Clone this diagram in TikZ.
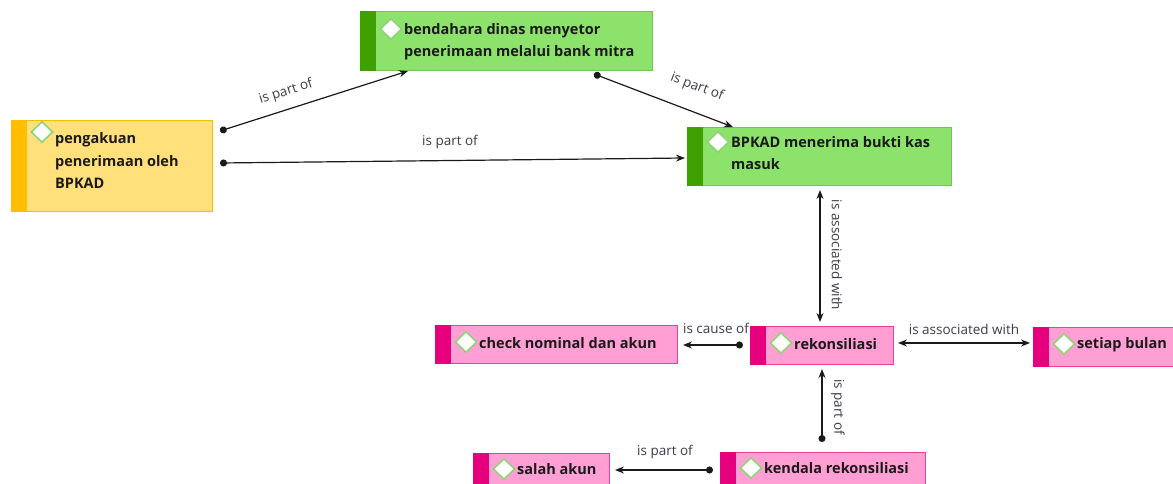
\documentclass[tikz,border=0pt]{standalone}
\usepackage{fontspec}
\setmainfont{Open Sans}
\usetikzlibrary{arrows.meta,shapes.geometric,calc}
\definecolor{gfillc}{HTML}{8CE26A}
\definecolor{gbarc}{HTML}{3FA100}
\definecolor{gborderc}{HTML}{6CC94A}
\definecolor{yfillc}{HTML}{FFE07A}
\definecolor{ybarc}{HTML}{FFBF00}
\definecolor{yborderc}{HTML}{F5C000}
\definecolor{pfillc}{HTML}{FF9FD3}
\definecolor{pbarc}{HTML}{E6007E}
\definecolor{pborderc}{HTML}{EC3E9A}
\definecolor{dline}{HTML}{8FD27A}
\definecolor{txtc}{HTML}{1A1A1A}
\definecolor{lblc}{HTML}{3C3C4C}
\definecolor{conc}{HTML}{1A1A1A}
\newcommand\kbox[9]{%
  \node[box, draw=#2borderc, fill=#2fillc, minimum width=#5pt, minimum height=#6pt] (#1) at (#3,#4) {};
  \fill[fill=#2barc] (#1.north west) rectangle ($(#1.south west)+(16,0)$);
  \node[diam] (#1-d) at ($(#1.north west)+(31,#7)$) {};
  \node[ntext] (#1-t) at ($(#1.north west)+(44,#8)$) {#9};
}
\begin{document}
\begin{tikzpicture}[x=1pt,y=-1pt,
  box/.style={draw, anchor=north west, inner sep=0pt, line width=1pt},
  diam/.style={diamond, draw=dline, fill=white, line width=1.6pt, minimum width=22pt, minimum height=21pt, inner sep=0pt},
  ntext/.style={anchor=west, align=left, inner sep=0pt, text=txtc, font=\bfseries\fontsize{14.5}{22.5}\selectfont},
  lbl/.style={text=lblc, font=\fontsize{13.5}{15}\selectfont, inner sep=0pt},
  conn/.style={draw=conc, line width=1.2pt, {Circle[length=7pt]}-{Stealth[length=9pt,width=7pt]}},
  biconn/.style={draw=conc, line width=1.2pt, {Stealth[length=9pt,width=7pt]}-{Stealth[length=9pt,width=7pt]}}
]
\useasboundingbox[fill=white] (0,0) rectangle (1173,484);

\kbox{top}{g}{360}{11}{292}{59}{18}{30.5}{bendahara dinas menyetor\\penerimaan melalui bank mitra}
\kbox{yel}{y}{11}{120}{201}{91}{12}{40.5}{pengakuan\\penerimaan oleh\\BPKAD}
\kbox{bp}{g}{687}{127}{264}{58}{15}{26}{BPKAD menerima bukti kas\\masuk}
\kbox{chk}{p}{435}{325}{242}{38}{17}{18}{check nominal dan akun}
\kbox{rek}{p}{750}{326}{143}{38}{17}{18}{rekonsiliasi}
\kbox{set}{p}{1033}{327}{150}{39}{17}{18}{setiap bulan}
\kbox{sal}{p}{473}{453}{136}{38}{16}{16}{salah akun}
\kbox{ken}{p}{720}{452}{205}{38}{16}{16}{kendala rekonsiliasi}

% connectors
\draw[conn] ($(yel.north east)+(7,11)$) -- ($(top.south west)+(48,0)$);
\draw[conn] ($(top.south west)+(234,3)$) -- ($(bp.north west)+(46,0)$);
\draw[conn] ($(yel.north east)+(7,43)$) -- ($(bp.north west)+(-2,31)$);
\draw[biconn] ($(bp.south west)+(133,4)$) -- ($(rek.north west)+(70,-4)$);
\draw[conn] ($(ken.north west)+(102,-10)$) -- ($(rek.south west)+(72,4)$);
\draw[conn] ($(rek.north west)+(-7,19)$) -- ($(chk.north east)+(5,20)$);
\draw[biconn] ($(rek.north east)+(4,17)$) -- ($(set.north west)+(-3,16)$);
\draw[conn] ($(ken.north west)+(-7,18)$) -- ($(sal.north east)+(5,17)$);

% labels
\node[lbl, rotate=17.5] (l1) at (286,92) {is part of};
\node[lbl, rotate=-21] (l2) at (697,87) {is part of};
\node[lbl] (l3) at (450,142) {is part of};
\node[lbl, rotate=-90] (l4) at (837,255) {is associated with};
\node[lbl, rotate=-90] (l5) at (838,407) {is part of};
\node[lbl] (l6) at (716,328) {is cause of};
\node[lbl] (l7) at (964,329) {is associated with};
\node[lbl] (l8) at (665,452) {is part of};
\end{tikzpicture}
\end{document}
